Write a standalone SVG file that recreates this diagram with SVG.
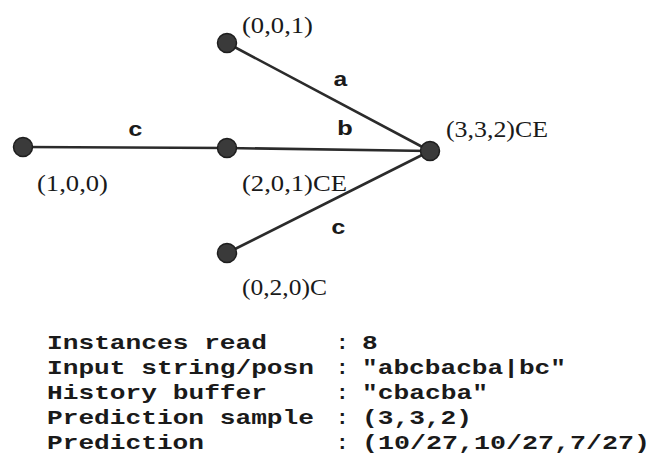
<svg xmlns="http://www.w3.org/2000/svg" width="657" height="463" viewBox="0 0 657 463">
<style>
.edge{stroke:#2b2b2b;stroke-width:2.6;fill:none;stroke-linecap:round}
.node{fill:#3a3a3a;stroke:#1e1e1e;stroke-width:1.5}
.lbl{font-family:"Liberation Serif","Times New Roman",serif;font-size:23px;fill:#1a1a1a}
.mono{font-family:"Liberation Mono","Courier New",monospace;font-weight:bold;font-size:21px;fill:#1a1a1a}
</style>
<rect width="657" height="463" fill="#ffffff"/>
<g id="connectors">
<line class="edge" x1="23" y1="147" x2="227" y2="148"/>
<line class="edge" x1="227" y1="148" x2="430" y2="151"/>
<line class="edge" x1="227" y1="43" x2="430" y2="151"/>
<line class="edge" x1="227" y1="253" x2="430" y2="151"/>
<text class="mono" x="128" y="136" textLength="15" lengthAdjust="spacingAndGlyphs">c</text>
<text class="mono" x="337" y="135" textLength="16" lengthAdjust="spacingAndGlyphs">b</text>
<text class="mono" x="333" y="86" textLength="15" lengthAdjust="spacingAndGlyphs">a</text>
<text class="mono" x="331" y="234" textLength="15" lengthAdjust="spacingAndGlyphs">c</text>
</g>
<g id="n100"><circle class="node" cx="23" cy="147" r="9.5"/><text class="lbl" x="37" y="191" textLength="71" lengthAdjust="spacingAndGlyphs">(1,0,0)</text></g>
<g id="n201"><circle class="node" cx="227" cy="148" r="9.5"/><text class="lbl" x="242" y="191" textLength="105" lengthAdjust="spacingAndGlyphs">(2,0,1)CE</text></g>
<g id="n001"><circle class="node" cx="227" cy="43" r="9.5"/><text class="lbl" x="242" y="33" textLength="71" lengthAdjust="spacingAndGlyphs">(0,0,1)</text></g>
<g id="n020"><circle class="node" cx="227" cy="253" r="9.5"/><text class="lbl" x="242" y="295" textLength="85" lengthAdjust="spacingAndGlyphs">(0,2,0)C</text></g>
<g id="n332"><circle class="node" cx="430" cy="151" r="9.5"/><text class="lbl" x="446" y="137" textLength="102" lengthAdjust="spacingAndGlyphs">(3,3,2)CE</text></g>
<g id="info" class="mono">
<text x="47" y="349" textLength="220" lengthAdjust="spacingAndGlyphs">Instances read</text>
<text x="47" y="374" textLength="267" lengthAdjust="spacingAndGlyphs">Input string/posn</text>
<text x="47" y="399" textLength="220" lengthAdjust="spacingAndGlyphs">History buffer</text>
<text x="47" y="424" textLength="267" lengthAdjust="spacingAndGlyphs">Prediction sample</text>
<text x="47" y="449" textLength="157" lengthAdjust="spacingAndGlyphs">Prediction</text>
<text x="336" y="349">:</text>
<text x="336" y="374">:</text>
<text x="336" y="399">:</text>
<text x="336" y="424">:</text>
<text x="336" y="449">:</text>
<text x="362" y="349" textLength="15.7" lengthAdjust="spacingAndGlyphs">8</text>
<text x="362" y="374" textLength="204" lengthAdjust="spacingAndGlyphs">"abcbacba|bc"</text>
<text x="362" y="399" textLength="126" lengthAdjust="spacingAndGlyphs">"cbacba"</text>
<text x="362" y="424" textLength="110" lengthAdjust="spacingAndGlyphs">(3,3,2)</text>
<text x="362" y="449" textLength="288" lengthAdjust="spacingAndGlyphs">(10/27,10/27,7/27)</text>
</g>
</svg>
